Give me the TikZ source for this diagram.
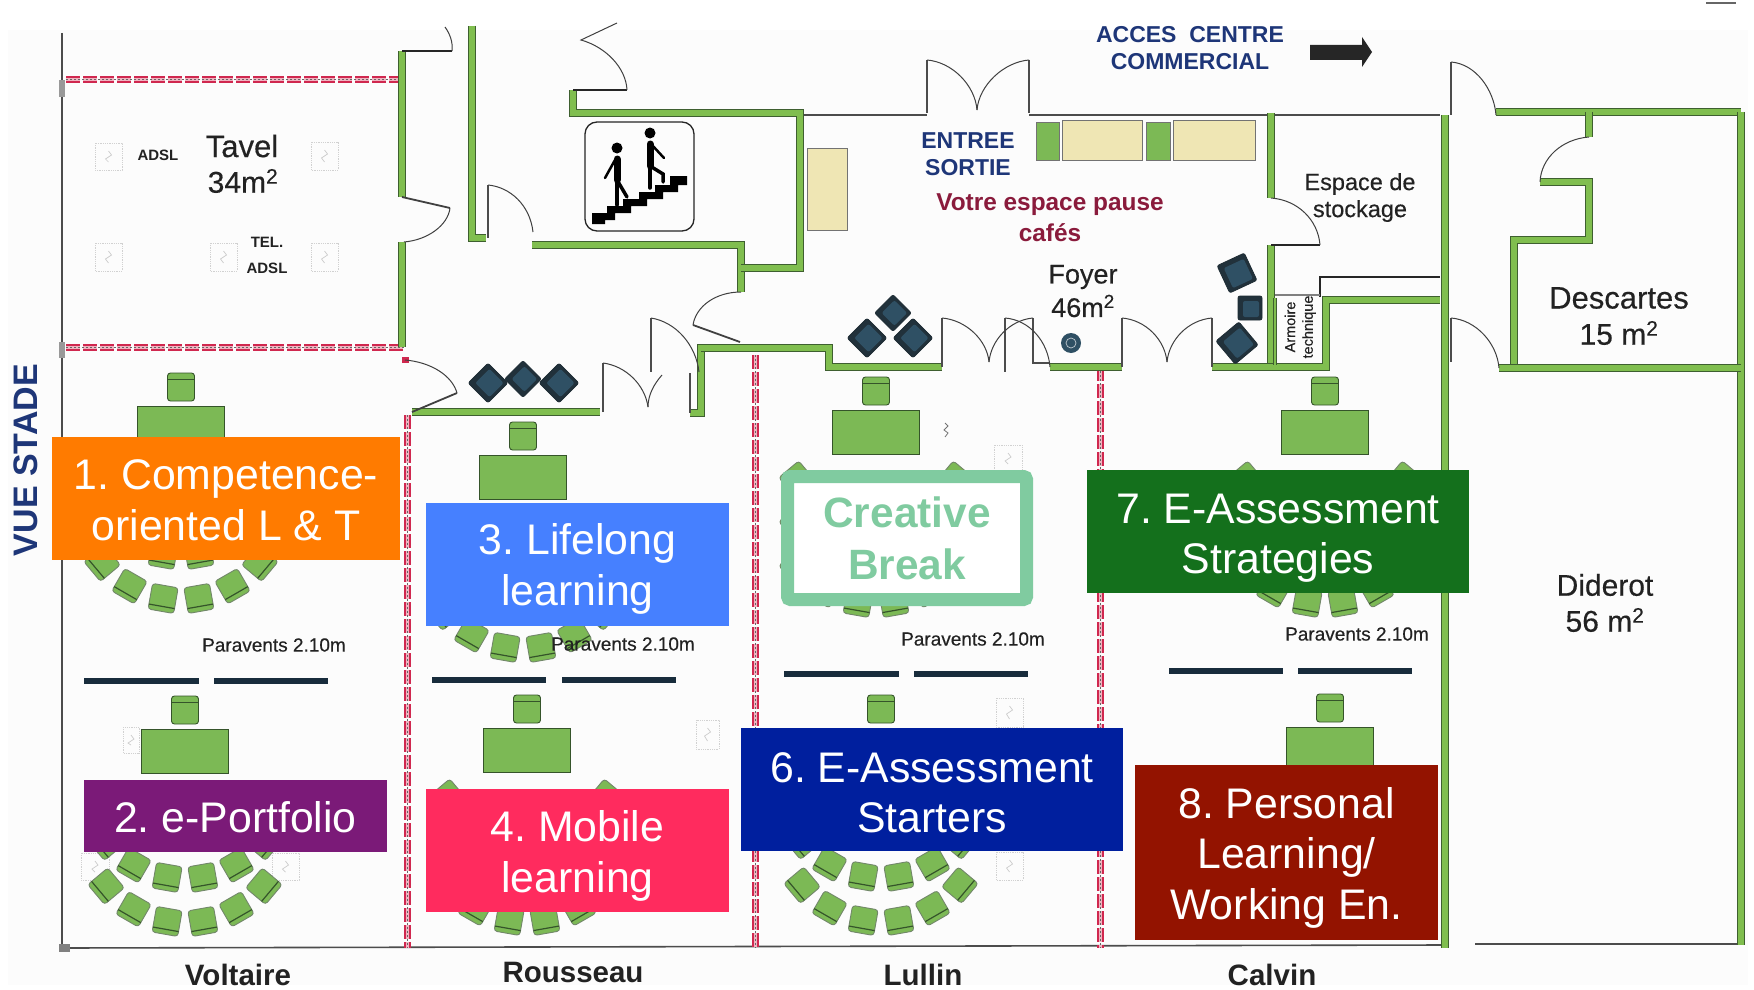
\documentclass[tikz,border=0pt]{standalone}
\usepackage{fontspec}
\setmainfont{Liberation Sans}
\newfontfamily\semib[FakeBold=0.35]{Liberation Sans}
\usetikzlibrary{arrows.meta}
\frenchspacing
\definecolor{wallg}{HTML}{80BE4F}
\definecolor{walld}{HTML}{3E5F30}
\definecolor{seatg}{HTML}{7CB955}
\definecolor{seatd}{HTML}{35542A}
\definecolor{beige}{HTML}{EFE6B4}
\definecolor{chairb}{HTML}{2F5064}
\definecolor{chaird}{HTML}{1E2C34}
\definecolor{crim}{HTML}{D0284F}
\definecolor{navyt}{HTML}{1E3678}
\definecolor{maroont}{HTML}{8A1B3C}
\definecolor{txt}{HTML}{222222}
\definecolor{parav}{HTML}{182C3C}
\definecolor{boxorange}{HTML}{FF7B00}
\definecolor{boxpurple}{HTML}{7B1A78}
\definecolor{boxblue}{HTML}{4680FF}
\definecolor{boxpink}{HTML}{FF2B5E}
\definecolor{boxnavy}{HTML}{001F9E}
\definecolor{boxgreen}{HTML}{14701C}
\definecolor{boxred}{HTML}{931300}
\definecolor{boxteal}{HTML}{80CBA0}
\tikzset{
  wall/.style={draw=walld,line width=.9pt,double=wallg,double distance=5.4pt,line join=miter,line cap=butt},
  thinw/.style={draw=black!70,line width=1.2pt},
  blackw/.style={draw=black!85,line width=2.4pt},
  door/.style={draw=black!75,line width=1pt},
  partition/.style={draw=crim,line width=2pt,double=crim!35,double distance=3pt,dash pattern=on 14pt off 3pt,
    postaction={draw=black!60,line width=1pt,double=none,dash pattern=on 1.5pt off 2.5pt}},
  sock/.style={draw=black!18,line width=.8pt,densely dotted},
  lab/.style={text=txt,font=\fontsize{#1}{#1}\selectfont\semib,inner sep=0pt},
  boldlab/.style={font=\fontsize{#1}{#1}\selectfont\bfseries,inner sep=0pt},
  topic/.style={text=white,inner sep=0pt,align=center,font=\fontsize{42.8}{50.5}\selectfont},
  panel/.style={inner sep=0pt}
}
\newcommand{\topicbox}[8]{%
  \node[panel,fill=#2,minimum width=#3pt,minimum height=#4pt] (#1) at (#5,#6) {};
  \node[topic] (#1label) at ([yshift=-#7pt]#1.center) {#8};}
\newcommand{\seatp}[3]{\begin{scope}[shift={(#1,#2)},rotate=#3]
  \draw[draw=seatd!70,fill=seatg,line width=.9pt,rounded corners=3pt] (-13,-13) rectangle (13,13);
  \draw[seatd,line width=1.2pt] (-13,8) -- (13,8);
\end{scope}}
\newcommand{\classroom}[2]{%
  \foreach \rw in {36,80,124}{
    \foreach \a in {-50,-30,-10,10,30,50}{
      \seatp{{#1+103*sin(\a)}}{{#2+\rw+103*cos(\a)}}{\a}
    }}
  \draw[draw=seatd,fill=seatg,line width=.9pt,rounded corners=3pt] ({#1-13.5},#2) rectangle ({#1+13.5},{#2+28});
  \draw[seatd,line width=1pt] ({#1-13.5},{#2+6}) -- ({#1+13.5},{#2+6});
  \draw[draw=seatd,fill=seatg,line width=1pt] ({#1-43.5},{#2+33}) rectangle ({#1+43.5},{#2+77});
}
\newcommand{\armchair}[4]{\begin{scope}[shift={(#1,#2)},rotate=#3]
  \draw[draw=chaird,fill=chaird!85!chairb,line width=.8pt,rounded corners=2pt] (-#4,-#4) rectangle (#4,#4);
  \fill[chairb,rounded corners=2pt] ({-#4+5},{-#4+5}) rectangle ({#4-3},{#4-3});
\end{scope}}
\newcommand{\socket}[4]{\draw[sock] (#1,#2) rectangle (#3,#4);
  \draw[draw=black!20,line width=.7pt] ({(#1+#3)/2},{#2+8}) -- ({(#1+#3)/2+3},{#2+12}) -- ({(#1+#3)/2-3},{#2+16}) -- ({(#1+#3)/2},{#4-8});}
\begin{document}
\begin{tikzpicture}[x=1pt,y=-1pt]
\useasboundingbox (0,0) rectangle (1754,990);
\fill[white] (0,0) rectangle (1754,990);
\fill[black!1] (8,30) rectangle (1748,985);
\draw[black!60,line width=1.2pt] (1706,3) -- (1736,3);

% faint sockets
\socket{95}{143}{122}{170}
\socket{311}{142}{338}{170}
\socket{95}{243}{122}{271}
\socket{210}{243}{237}{271}
\socket{311}{243}{338}{271}
\socket{123}{727}{139}{753}
\socket{81}{853}{109}{880}
\socket{272}{853}{299}{880}
\socket{696}{720}{719}{749}
\socket{994}{445}{1022}{472}
\socket{996}{698}{1023}{727}
\socket{996}{852}{1023}{880}
\draw[black!55,line width=.8pt] (945,423) -- (948,426) -- (944,430) -- (948,433) -- (945,437);

% furniture
\classroom{181}{373}
\classroom{185}{696}
\classroom{523}{422}
\classroom{527}{695}
\classroom{876}{377}
\classroom{881}{695}
\classroom{1325}{377}
\classroom{1330}{694}

% paravents
\foreach \xa/\xb/\yy in {84/199/681,214/328/681,432/546/680,562/676/680,784/899/674,914/1028/674,1169/1283/671,1298/1412/671}
  \fill[parav] (\xa,\yy-3) rectangle (\xb,\yy+3);

% outer thin walls
\draw[thinw] (62,33) -- (62,948);
\draw[thinw,line width=1.6pt] (62,948) -- (1445,945);
\draw[thinw] (1475,944) -- (1745,944);
\draw[thinw] (800,115) -- (927,115);
\draw[thinw] (1029,115) -- (1440,115);
\fill[black!40] (59,80) rectangle (65,97);
\fill[black!40] (59,342) rectangle (65,358);
\fill[black!50] (59,944) rectangle (70,952);

% partitions
\draw[partition] (66,80) -- (404,80);
\draw[partition] (66,347) -- (404,347);
\draw[partition] (407,415) -- (407,948);
\draw[partition] (755,355) -- (755,948);
\draw[partition] (1100,367) -- (1100,948);
\fill[crim] (402,357) rectangle (409,363);

% walls
\draw[wall] (402,51) -- (402,197);
\draw[wall] (402,242) -- (402,347);
\draw[wall] (472,26) -- (472,238) -- (486,238);
\draw[wall] (532,245) -- (741,245) -- (741,292);
\draw[wall] (741,268) -- (800,268) -- (800,113) -- (573,113) -- (573,90);
\draw[wall] (741,348) -- (701,348) -- (701,413) -- (690,413);
\draw[wall] (701,348) -- (829,348) -- (829,367) -- (942,367);
\draw[wall] (412,412) -- (600,412);
\draw[wall] (1050,367) -- (1122,367);
\draw[wall] (1271,113) -- (1271,198);
\draw[wall] (1271,245) -- (1271,367);
\draw[wall] (1212,367) -- (1326,367) -- (1326,300) -- (1440,300);
\draw[wall] (1445,115) -- (1445,948);
\draw[wall] (1496,112) -- (1741,112);
\draw[wall] (1741,112) -- (1741,945);
\draw[wall] (1589,112) -- (1589,137);
\draw[wall] (1540,182) -- (1589,182) -- (1589,240) -- (1514,240) -- (1514,367);
\draw[wall] (1499,368) -- (1741,368);

% thick black and thin wall pieces
\draw[blackw] (402,51) -- (452,51);
\draw[blackw] (573,90) -- (627,90);
\draw[blackw] (1271,245) -- (1320,245);
\draw[blackw] (1320,297) -- (1320,277) -- (1440,277);
\draw[black!50,line width=2.4pt] (1275,295) -- (1320,295);
\draw[wall,double distance=2pt] (1275,298) -- (1275,365);
\draw[thinw] (488,185) -- (488,238);
\draw[thinw] (651,318) -- (651,372);
\draw[thinw] (690,373) -- (690,413);
\draw[thinw] (603,412) -- (603,363);
\draw[thinw] (942,318) -- (942,367);
\draw[thinw] (1005,318) -- (1005,372);
\draw[thinw] (1033,318) -- (1033,363) -- (1050,363);
\draw[thinw] (1122,318) -- (1122,367);
\draw[thinw] (1212,318) -- (1212,367);
\draw[thinw] (927,60) -- (927,113);
\draw[thinw] (1029,60) -- (1029,113);
\draw[thinw] (1451,62) -- (1451,115);
\draw[thinw] (1451,318) -- (1451,362);

% doors
\draw[door] (452,51) .. controls (453,42) and (450,34) .. (445,27);
\draw[door,line width=1.8pt] (402,197) -- (450,208);
\draw[door] (450,208) .. controls (448,225) and (428,240) .. (404,242);
\draw[door] (488,185) .. controls (510,187) and (530,205) .. (533,232);
\draw[door] (627,90) .. controls (626,68) and (606,47) .. (581,40) -- (617,23);
\draw[door] (741,292) .. controls (716,292) and (696,306) .. (693,325);
\draw[door,line width=1.8pt] (693,325) -- (740,342);
\draw[door] (651,318) .. controls (676,322) and (696,345) .. (699,372);
\draw[door] (405,360) .. controls (430,362) and (452,375) .. (457,393);
\draw[door,line width=1.8pt] (457,393) -- (412,412);
\draw[door] (603,363) .. controls (626,366) and (645,385) .. (648,407);
\draw[door] (648,407) .. controls (648,395) and (654,384) .. (662,375);
\draw[door] (927,60) .. controls (952,62) and (975,85) .. (977,110);
\draw[door] (1029,60) .. controls (1004,62) and (979,85) .. (977,110);
\draw[door] (942,318) .. controls (966,320) and (987,340) .. (989,362);
\draw[door] (1033,318) .. controls (1010,320) and (991,340) .. (989,362);
\draw[door] (1005,318) .. controls (1030,320) and (1048,342) .. (1050,367);
\draw[door] (1122,318) .. controls (1146,320) and (1165,340) .. (1167,362);
\draw[door] (1212,318) .. controls (1188,320) and (1169,340) .. (1167,362);
\draw[door] (1271,198) .. controls (1298,200) and (1318,220) .. (1320,245);
\draw[door] (1451,62) .. controls (1476,64) and (1494,90) .. (1496,115);
\draw[door] (1589,137) .. controls (1562,139) and (1541,158) .. (1540,182);
\draw[door] (1451,318) .. controls (1476,320) and (1497,343) .. (1499,368);

% tables and benches
\draw[black!55,fill=beige,line width=.8pt] (807,148) rectangle (847,230);
\draw[black!55,fill=seatg,line width=.8pt] (1036,122) rectangle (1059,160);
\draw[black!55,fill=beige,line width=.8pt] (1062,120) rectangle (1142,160);
\draw[black!55,fill=seatg,line width=.8pt] (1146,122) rectangle (1170,160);
\draw[black!55,fill=beige,line width=.8pt] (1173,120) rectangle (1255,160);

% armchairs and column
\armchair{488}{383}{45}{14}
\armchair{523}{379}{45}{13}
\armchair{559}{383}{45}{14}
\armchair{867}{338}{45}{14}
\armchair{893}{313}{45}{13}
\armchair{913}{338}{45}{14}
\armchair{1237}{273}{25}{15}
\armchair{1250}{308}{0}{12}
\armchair{1237}{343}{40}{15}
\fill[chairb] (1071,343) circle (10);
\draw[white!70!chairb,line width=.7pt] (1071,343) circle (5);

% stairs pictogram
\draw[black!85,line width=1.3pt,rounded corners=12pt] (585,122) rectangle (694,231);
\fill[black] (592,224) -- (592,213) -- (607,213) -- (607,206) -- (623,206) -- (623,199) -- (639,199) -- (639,192) -- (655,192) -- (655,185) -- (670,185) -- (670,176) -- (687,176) -- (687,185) -- (678,185) -- (678,192) -- (663,192) -- (663,199) -- (647,199) -- (647,206) -- (631,206) -- (631,213) -- (615,213) -- (615,220) -- (605,220) -- (605,224) -- cycle;
\fill[black] (617,148) circle (5.5);
\fill[black] (650,133) circle (5.5);
\draw[black,line width=7pt,line cap=round] (617,159) -- (617,180);
\draw[black,line width=3.5pt,line cap=round] (617,180) -- (617,205);
\draw[black,line width=3.5pt,line cap=round] (617,180) -- (627,197);
\draw[black,line width=2.5pt,line cap=round] (615,160) -- (605,178);
\draw[black,line width=7pt,line cap=round] (650,144) -- (650,166);
\draw[black,line width=3.5pt,line cap=round] (650,166) -- (650,188);
\draw[black,line width=3.5pt,line cap=round] (650,166) -- (663,174) -- (663,182);
\draw[black,line width=2.5pt,line cap=round] (652,145) -- (664,158);

% arrow
\fill[black!85] (1310,45) -- (1362,45) -- (1362,37) -- (1372,52) -- (1362,67) -- (1362,60) -- (1310,60) -- cycle;

% plan labels
\node[boldlab=34,text=navyt,rotate=90] (vue) at (26,460) {VUE STADE};
\node[boldlab=23,text=navyt] (acces) at (1190,35) {ACCES\ \ CENTRE};
\node[boldlab=23,text=navyt] (comm) at (1190,62) {COMMERCIAL};
\node[boldlab=23,text=navyt] (entree) at (968,141) {ENTREE};
\node[boldlab=23,text=navyt] (sortie) at (968,168) {SORTIE};
\node[boldlab=24.4,text=maroont] (votre) at (1050,205) {Votre espace pause};
\node[boldlab=24.4,text=maroont] (cafes) at (1050,233) {cafés};
\node[lab=27] (foyer) at (1083,277) {Foyer};
\node[lab=27] (foyerm) at (1083,306) {46m\textsuperscript{2}};
\node[lab=23.5] (espace) at (1360,184) {Espace de};
\node[lab=23.5] (stock) at (1360,211) {stockage};
\node[lab=14.5,rotate=90] (arm) at (1290,327) {Armoire};
\node[lab=14.5,rotate=90] (tech) at (1309,327) {technique};
\node[lab=31] (tavel) at (242,146) {Tavel};
\node[lab=30] (tavelm) at (243,181) {34m\textsuperscript{2}};
\node[boldlab=15,text=txt] (adsla) at (158,155) {ADSL};
\node[boldlab=15,text=txt] (tel) at (267,242) {TEL.};
\node[boldlab=15,text=txt] (adslb) at (267,268) {ADSL};
\node[lab=31] (desc) at (1619,298) {Descartes};
\node[lab=30] (descm) at (1619,333) {15 m\textsuperscript{2}};
\node[lab=30] (did) at (1605,585) {Diderot};
\node[lab=30] (didm) at (1605,620) {56 m\textsuperscript{2}};
\node[lab=19] (para) at (274,645) {Paravents 2.10m};
\node[lab=19] (parb) at (623,644) {Paravents 2.10m};
\node[lab=19] (parc) at (973,639) {Paravents 2.10m};
\node[lab=19] (pard) at (1357,634) {Paravents 2.10m};
\node[boldlab=29.5,text=txt] (volt) at (238,975) {Voltaire};
\node[boldlab=29.5,text=txt] (rous) at (573,972) {Rousseau};
\node[boldlab=29.5,text=txt] (lull) at (923,975) {Lullin};
\node[boldlab=29.5,text=txt] (calv) at (1272,975) {Calvin};

% topic boxes
\topicbox{t1}{boxorange}{348}{123}{226}{498.5}{2}{1. Competence-\\oriented L \& T}
\topicbox{t2}{boxpurple}{303}{72}{235.5}{816}{1}{2. e-Portfolio}
\topicbox{t3}{boxblue}{303}{123}{577.5}{564.5}{4.5}{3. Lifelong\\learning}
\topicbox{t4}{boxpink}{303}{123}{577.5}{850.5}{5.5}{4. Mobile\\learning}
\topicbox{t6}{boxnavy}{382}{123}{932}{789.5}{3.5}{6. E-Assessment\\Starters}
\topicbox{t7}{boxgreen}{382}{123}{1278}{531.5}{6.5}{7. E-Assessment\\Strategies}
\topicbox{t8}{boxred}{303}{175}{1286.5}{852.5}{5}{8. Personal\\Learning/\\Working En.}
\node[draw=boxteal,line width=13pt,rounded corners=3pt,fill=white,text=boxteal,inner sep=0pt,align=center,
  font=\fontsize{42.4}{52}\selectfont\bfseries,minimum width=239pt,minimum height=123pt] (t5) at (907,538) {Creative\\Break};
\end{tikzpicture}
\end{document}
